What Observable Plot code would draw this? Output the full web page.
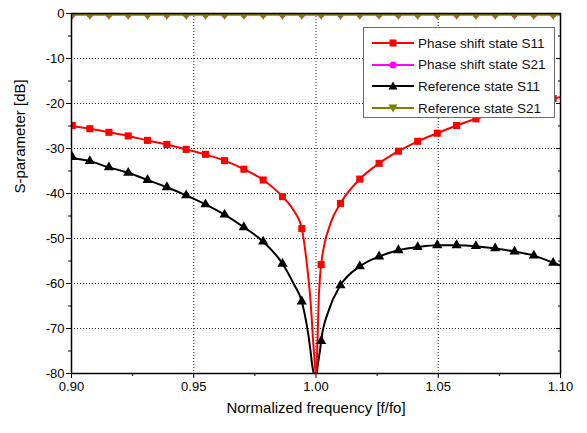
<!DOCTYPE html>
<html><head><meta charset="utf-8">
<script src="https://cdn.jsdelivr.net/npm/d3@7"></script>
<script src="https://cdn.jsdelivr.net/npm/@observablehq/plot@0.6"></script>
<style>
body{margin:0;background:#fff;}
#wrap{position:relative;width:587px;height:433px;font-family:"Liberation Sans",Arial,sans-serif;}
#legend{position:absolute;left:363px;top:27px;width:192px;height:91px;border:1px solid #6b6b6b;background:#fff;box-sizing:border-box;}
.row{position:absolute;left:0;height:20px;display:flex;align-items:center;font-size:13.5px;color:#111;white-space:nowrap;}
.row svg{display:block;margin-right:4px;}
</style></head><body><div id="wrap"></div>
<script>
// Marker frequencies (normalized f/fo)
const freq = [0.9003,0.9075,0.9153,0.9232,0.9311,0.9390,0.9469,0.9548,0.9626,0.9705,0.9784,0.9863,0.9942,
              1.0021,1.0100,1.0179,1.0258,1.0337,1.0416,1.0496,1.0575,1.0654,1.0733,1.0812,1.0891,1.0970];
// Series values at marker frequencies [dB]
const phaseS11 = [-24.9,-25.6,-26.4,-27.2,-28.2,-29.1,-30.2,-31.3,-32.7,-34.6,-37.0,-40.7,-47.8,
                  -55.8,-42.2,-36.8,-33.3,-30.6,-28.4,-26.6,-24.9,-23.4,-22.1,-20.9,-19.8,-18.9];
const phaseS21 = [-0.2,-0.2,-0.2,-0.2,-0.2,-0.2,-0.2,-0.2,-0.2,-0.2,-0.2,-0.2,-0.2,
                  -0.2,-0.2,-0.2,-0.2,-0.2,-0.2,-0.2,-0.2,-0.2,-0.2,-0.2,-0.2,-0.2];
const refS11   = [-31.9,-32.8,-34.2,-35.4,-37.0,-38.6,-40.4,-42.4,-44.7,-47.5,-50.7,-55.6,-64.0,
                  -72.8,-60.4,-56.2,-54.0,-52.6,-51.9,-51.5,-51.5,-51.7,-52.2,-52.9,-53.8,-55.4];
const refS21   = [-0.2,-0.2,-0.2,-0.2,-0.2,-0.2,-0.2,-0.2,-0.2,-0.2,-0.2,-0.2,-0.2,
                  -0.2,-0.2,-0.2,-0.2,-0.2,-0.2,-0.2,-0.2,-0.2,-0.2,-0.2,-0.2,-0.2];
// Extra line-only points (edges and resonance dip)
const phaseS11LineFreq = [0.9000,0.9909,0.9961,0.99775,0.99911,1.0000,1.0005,1.0011,1.0059,1.1000];
const phaseS11LineVal  = [-24.8,-43.8,-54.9,-63.8,-75.0,-80.5,-75.0,-63.8,-46.7,-18.6];
const refS11LineFreq   = [0.9000,0.9909,0.99775,0.99845,1.0000,1.0007,1.0018,1.0052,1.1000];
const refS11LineVal    = [-31.8,-60.1,-74.9,-78.2,-81.0,-78.2,-74.2,-66.0,-56.0];
const s21LineFreq      = [0.9000,1.1000];
const phaseS21LineVal  = [-0.2,-0.2];
const refS21LineVal    = [-0.2,-0.2];
// Axis ticks
const xTicks = [0.90,0.95,1.00,1.05,1.10];
const xMinor = [0.925,0.975,1.025,1.075];
const yTicks = [0,-10,-20,-30,-40,-50,-60,-70,-80];
const yMinor = [-5,-15,-25,-35,-45,-55,-65,-75];
const seriesNames = ["Phase shift state S11","Phase shift state S21","Reference state S11","Reference state S21"];
const seriesColors = ["#ff0000","#ff00ff","#000000","#808000"];

const pts = (f, v) => f.map((x, i) => ({f: x, v: v[i]}));
const lineOf = (f, v, ef, ev) => pts(f, v).concat(pts(ef, ev)).sort((a, b) => a.f - b.f);

const psS11Line = lineOf(freq, phaseS11, phaseS11LineFreq, phaseS11LineVal);
const rfS11Line = lineOf(freq, refS11, refS11LineFreq, refS11LineVal);
const psS21Line = lineOf(freq, phaseS21, s21LineFreq, phaseS21LineVal);
const rfS21Line = lineOf(freq, refS21, s21LineFreq, refS21LineVal);

const grid = {stroke: "#222", strokeOpacity: 1, strokeDasharray: "1,2", strokeWidth: 1};
const fmtY = d => String(d);
const fmtX = d => d.toFixed(2);
const blank = () => "";

const chart = Plot.plot({
  width: 587, height: 433,
  marginLeft: 71, marginRight: 27, marginTop: 13, marginBottom: 60,
  style: {fontFamily: "'Liberation Sans', Arial, sans-serif", fontSize: "13px", background: "white", color: "#000"},
  x: {domain: [0.9, 1.1], label: null},
  y: {domain: [-80, 0], label: null},
  marks: [
    Plot.gridX(xTicks.slice(1, -1), grid),
    Plot.gridY(yTicks.slice(1, -1), grid),
    Plot.line(psS21Line, {x: "f", y: "v", stroke: seriesColors[1], strokeWidth: 2, clip: true}),
    Plot.line(rfS21Line, {x: "f", y: "v", stroke: seriesColors[3], strokeWidth: 2, clip: true}),
    Plot.line(rfS11Line, {x: "f", y: "v", stroke: seriesColors[2], strokeWidth: 2, curve: "monotone-x", clip: true}),
    Plot.line(psS11Line, {x: "f", y: "v", stroke: seriesColors[0], strokeWidth: 2, curve: "monotone-x", clip: true}),
    Plot.dot(pts(freq, phaseS21), {x: "f", y: "v", symbol: "circle", fill: seriesColors[1], r: 3.2, clip: true}),
    Plot.dot(pts(freq, refS21), {x: "f", y: "v", symbol: "triangle", rotate: 180, fill: seriesColors[3], r: 3.6, clip: true}),
    Plot.dot(pts(freq, refS11), {x: "f", y: "v", symbol: "triangle", fill: seriesColors[2], r: 3.8, clip: true}),
    Plot.dot(pts(freq, phaseS11), {x: "f", y: "v", symbol: "square", fill: seriesColors[0], r: 4, clip: true}),
    Plot.frame({stroke: "#000", strokeWidth: 1.5}),
    Plot.axisY(yTicks, {anchor: "left", tickSize: 5, tickPadding: 2, tickFormat: fmtY, fontSize: 13, label: null}),
    Plot.axisY(yMinor, {anchor: "left", tickSize: 3, tickFormat: blank, label: null}),
    Plot.axisY(yTicks, {anchor: "right", tickSize: -5, tickFormat: blank, label: null}),
    Plot.axisY(yMinor, {anchor: "right", tickSize: -3, tickFormat: blank, label: null}),
    Plot.axisX(xTicks, {anchor: "bottom", tickSize: 5, tickPadding: 3, tickFormat: fmtX, fontSize: 13, label: null}),
    Plot.axisX(xMinor, {anchor: "bottom", tickSize: 3, tickFormat: blank, label: null}),
    Plot.text(["S-parameter [dB]"], {frameAnchor: "left", dx: -51, rotate: -90, fontSize: 15}),
    Plot.text(["Normalized frequency [f/fo]"], {frameAnchor: "bottom", dy: 39, fontSize: 15})
  ]
});
const wrap = document.getElementById("wrap");
wrap.appendChild(chart);

// Legend (HTML overlay, inside plot area like the reference)
const legend = document.createElement("div");
legend.id = "legend";
const symbols = ["square", "circle", "triangle", "triangleDown"];
seriesNames.forEach((name, i) => {
  const row = document.createElement("div");
  row.className = "row";
  row.style.top = (5 + i * 21.7) + "px";
  const c = seriesColors[i];
  let m = "";
  if (symbols[i] === "square") m = `<rect x="25.5" y="6.5" width="7" height="7" fill="${c}"/>`;
  if (symbols[i] === "circle") m = `<circle cx="29" cy="10" r="3.6" fill="${c}"/>`;
  if (symbols[i] === "triangle") m = `<path d="M29,5.5 L33.5,13.5 L24.5,13.5 Z" fill="${c}"/>`;
  if (symbols[i] === "triangleDown") m = `<path d="M29,14.5 L33.5,6.5 L24.5,6.5 Z" fill="${c}"/>`;
  row.innerHTML = `<svg width="50" height="20"><line x1="8" y1="10" x2="50" y2="10" stroke="${c}" stroke-width="2"/>${m}</svg><span>${name}</span>`;
  legend.appendChild(row);
});
wrap.appendChild(legend);
</script></body></html>
